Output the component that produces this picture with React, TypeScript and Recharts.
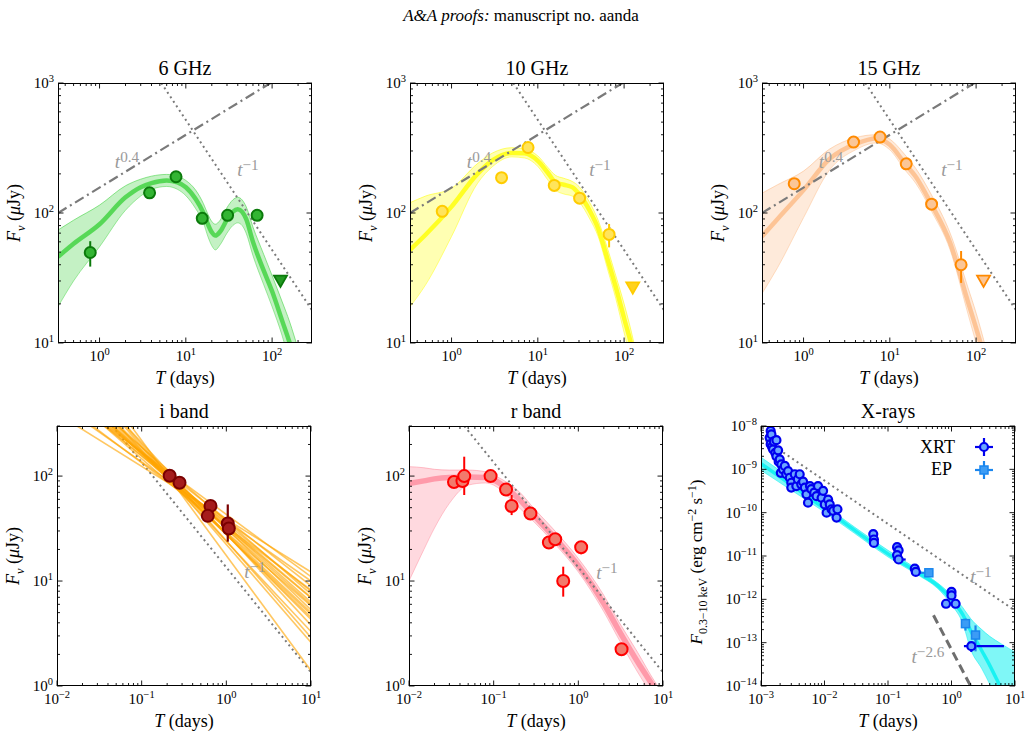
import React from 'react';
import { ComposedChart, XAxis, YAxis, Line, Area, Scatter, ErrorBar } from 'recharts';

const FONT = '"Liberation Serif", "DejaVu Serif", serif';
const PW = 254; // plot width
const PH = 260; // plot height
const ML = 60; // y-axis gutter
const MT = 10;
const MR = 10;
const MB = 40; // x-axis gutter

// ---------- radio (6 / 10 / 15 GHz) ----------
const radioDays = [0.78, 3.8, 7.7, 15.5, 30.5, 67];

const flux6 = [49.7, 143, 190, 91, 96, 96];
const err6 = [11, 7, 7, 9, 8, 6];
const lim6 = { x: 125, y: 30.4 };

const flux10 = [103, 187, 319, 163, 130, 68.4];
const err10 = [6, 8, 12, 8, 8, 14];
const lim10 = { x: 126, y: 27 };

const flux15 = [168, 351, 384, 239, 117, 40];
const err15 = [8, 12, 14, 10, 11, 11];
const lim15 = { x: 122, y: 30.4 };

// model bundles: spread (lo/hi) and core (mid)
const g6T = [0.33, 0.5, 1, 2, 3, 4, 6, 8, 10, 13, 16, 18, 20, 22, 25, 30, 35, 40, 45, 50, 60, 80, 100, 130, 160, 200, 260];
const g6Hi = [74, 88, 115, 162, 182, 192, 198, 192, 178, 150, 118, 98, 86, 82, 88, 110, 126, 132, 126, 112, 78, 48, 33, 21, 14.5, 9, 5];
const g6Mid = [46, 58, 82, 132, 158, 170, 178, 172, 158, 128, 100, 82, 71, 67, 72, 89, 102, 107, 102, 90, 60, 36, 25, 15, 10, 6, 3.2];
const g6Lo = [19, 30, 55, 105, 135, 152, 160, 152, 136, 108, 84, 66, 56, 52, 57, 70, 80, 84, 80, 70, 47, 28, 19, 11.5, 7, 4, 2];

const y10T = [0.33, 0.5, 1, 2, 3, 5, 7, 10, 13, 16, 20, 25, 30, 40, 50, 65, 80, 100, 130, 170];
const y10Hi = [120, 135, 155, 240, 290, 318, 310, 275, 225, 195, 185, 175, 160, 120, 88, 52, 33, 20, 10, 4];
const y10Mid = [52, 68, 112, 200, 255, 290, 288, 252, 205, 172, 165, 158, 140, 104, 76, 43, 27, 15.5, 8, 3];
const y10Lo = [19, 28, 66, 169, 228, 270, 265, 228, 180, 150, 140, 135, 122, 90, 66, 36, 22, 12, 6, 2];

const o15T = [0.33, 0.5, 1, 2, 4, 7, 10, 15, 20, 30, 50, 80, 100, 130, 170];
const o15Hi = [142, 165, 210, 310, 380, 400, 370, 280, 220, 140, 70, 27, 17, 9, 4];
const o15Mid = [66, 90, 150, 260, 340, 375, 335, 240, 190, 118, 59, 21, 13, 7, 3];
const o15Lo = [24, 38, 92, 214, 306, 346, 306, 214, 169, 105, 52, 17, 10, 5.5, 2.2];

// guide power laws
const radioRise = [{ x: 0.33, y: 100 }, { x: 96, y: 1000 }];
const radioDecay = [{ x: 5.2, y: 1000 }, { x: 290, y: 17.9 }];

// ---------- optical ----------
const iDays = [0.214, 0.28, 0.65, 0.604, 1.04, 1.07];
const iFlux = [100.7, 86.3, 52, 41.8, 35.4, 31.7];
const iLo = [96, 80, 47, 39, 23.7, 28.5];
const iHi = [106, 94, 57, 45, 53.7, 35];
// i-band power-law draws: value at 0.01 d and at 10 d
const iAt001 = [394, 662, 504, 722, 541, 943, 735, 891, 735, 1122, 936, 1154, 1542, 1267, 1671, 1636, 2729, 863, 957, 795, 1057, 692];
const iAt10 = [12.2, 11.0, 10.0, 9.0, 8.2, 7.5, 6.9, 6.3, 5.8, 5.3, 4.8, 4.3, 3.8, 3.3, 2.9, 2.6, 1.4, 6.0, 5.0, 7.0, 4.5, 8.0];

const rDays = [0.034, 0.0428, 0.0449, 0.092, 0.14, 0.163, 0.272, 0.449, 0.533, 0.663, 1.08, 3.24];
const rFlux = [87.7, 89.6, 100, 100, 74.6, 51.8, 44, 23.3, 25, 10, 21, 2.24];
const rLo = [83, 82, 66, 95, 70, 42.5, 41, 21.5, 23, 7.1, 18, 2.1];
const rHi = [92, 97, 153, 105, 79, 66, 47, 25, 27, 13.7, 23.4, 2.4];

const rT = [0.01, 0.015, 0.02, 0.03, 0.05, 0.08, 0.1, 0.15, 0.2, 0.3, 0.5, 1, 2, 3, 5, 8, 10];
const rBandHi = [123, 120, 116, 114, 114, 110, 102, 85, 71, 49, 31.6, 16.4, 7.3, 4.1, 2.1, 1.1, 0.85];
const rBandMid = [85, 90, 94, 97, 98, 97, 92, 74, 60, 42, 27, 14, 6.1, 3.4, 1.7, 0.95, 0.72];
const rBandLo = [10, 20, 32, 55, 82, 86, 82, 63, 50, 36.6, 23.7, 12.2, 5.1, 2.8, 1.36, 0.75, 0.58];

const opticalDecay = [{ x: 0.045, y: 300 }, { x: 10, y: 1.35 }];

// ---------- X-rays ----------
const xrtDays = [
  1.37e-3, 1.42e-3, 1.42e-3, 1.46e-3, 1.49e-3, 1.55e-3, 1.6e-3, 1.68e-3, 1.75e-3, 1.75e-3,
  1.86e-3, 1.9e-3, 1.97e-3, 2.05e-3, 2.09e-3, 2.22e-3, 2.37e-3, 2.5e-3, 2.67e-3, 2.84e-3,
  3.0e-3, 3.0e-3, 3.4e-3, 3.6e-3, 3.8e-3, 4.07e-3, 4.3e-3, 4.6e-3, 4.9e-3, 5.2e-3,
  5.5e-3, 5.9e-3, 6.2e-3, 6.9e-3, 7.5e-3, 7.9e-3, 9.0e-3, 9.5e-3, 1.01e-2, 1.08e-2,
  1.14e-2, 1.21e-2, 1.29e-2, 1.37e-2, 1.55e-2, 1.6e-2,
  5.86e-2, 6.0e-2, 6.0e-2, 0.139, 0.147, 0.139, 0.264, 0.274, 1.0, 1.0, 0.82, 1.16,
];
const xrtFlux = [
  5.4e-9, 7.7e-9, 3.8e-9, 6.4e-9, 3.3e-9, 2.9e-9, 4.4e-9, 2.4e-9, 4.7e-9, 2.0e-9,
  2.75e-9, 1.5e-9, 1.7e-9, 8.3e-10, 1.3e-9, 1.0e-9, 1.2e-9, 7.7e-10, 9.1e-10, 6.4e-10,
  4.9e-10, 3.8e-10, 7.7e-10, 4.1e-10, 5.9e-10, 7.7e-10, 4.5e-10, 5.2e-10, 3.8e-10, 2.65e-10,
  1.7e-10, 4.1e-10, 3.5e-10, 2.9e-10, 2.4e-10, 4.1e-10, 2.2e-10, 3.2e-10, 1.55e-10, 1.0e-10,
  2.0e-10, 1.55e-10, 1.2e-10, 1.1e-10, 7.7e-11, 1.2e-10,
  3.2e-11, 2.4e-11, 2.0e-11, 1.6e-11, 1.35e-11, 1.05e-11, 5.1e-12, 4.3e-12, 1.48e-12, 1.23e-12, 7.9e-13, 7.9e-13,
];
// XRT points with visible error bars: [t, F, tLo, tHi, FLo, FHi]
const xrtBars = [
  [0.147, 8.3e-12, 0.12, 0.19, 7.4e-12, 9.3e-12],
  [2.05, 8.3e-14, 1.57, 6.7, 6.1e-14, 1.04e-13],
];
const epBars = [
  [0.44, 4.1e-12, 0.3, 0.5, 3.7e-12, 4.5e-12],
  [1.66, 2.75e-13, 1.55, 1.78, 1.9e-13, 3.6e-13],
  [2.39, 1.5e-13, 2.25, 2.55, 6.3e-14, 2.5e-13],
];

const xT = [1e-3, 3e-3, 1e-2, 3e-2, 0.1, 0.3, 0.6, 1, 1.5, 2, 3, 4, 6, 10];
const xHi = [1.9e-9, 6.0e-10, 1.5e-10, 4.6e-11, 1.35e-11, 4.8e-12, 2.4e-12, 1.25e-12, 6.5e-13, 3.6e-13, 2.0e-13, 1.4e-13, 9.5e-14, 6.0e-14];
const xMid = [1.35e-9, 4.4e-10, 1.25e-10, 3.9e-11, 1.12e-11, 4.1e-12, 2.1e-12, 1.0e-12, 4.5e-13, 1.9e-13, 6.5e-14, 3.0e-14, 9e-15, 2e-15];
const xLo = [9.5e-10, 3.3e-10, 1.03e-10, 3.3e-11, 9.5e-12, 3.6e-12, 1.8e-12, 7.5e-13, 2.8e-13, 7e-14, 2.5e-14, 1.1e-14, 3e-15, 5e-16];

const xrayDecay = [{ x: 1e-3, y: 5.5e-9 }, { x: 10, y: 5.5e-13 }];
const xraySteep = [{ x: 0.52, y: 4.3e-13 }, { x: 2.0, y: 1e-14 }];

// ---------- helpers ----------
const pts = (xs: number[], ys: number[]) => xs.map((x, i) => ({ x, y: ys[i] }));
const rangeRows = (xs: number[], lo: number[], hi: number[]) => xs.map((x, i) => ({ x, band: [lo[i], hi[i]] }));
const symRows = (xs: number[], ys: number[], es: number[]) => xs.map((x, i) => ({ x, y: ys[i], ey: es[i] }));
const asymRows = (xs: number[], ys: number[], lo: number[], hi: number[]) =>
  xs.map((x, i) => ({ x, y: ys[i], ey: [ys[i] - lo[i], hi[i] - ys[i]] }));
const barRows = (rows: number[][]) =>
  rows.map(([t, f, tl, th, fl, fh]) => ({ x: t, y: f, ex: [t - tl, th - t], ey: [f - fl, fh - f] }));

function logTicks(lo: number, hi: number): number[] {
  const out: number[] = [];
  for (let e = Math.floor(Math.log10(lo)); e <= Math.ceil(Math.log10(hi)); e++) {
    for (let k = 1; k <= 9; k++) {
      const v = k * Math.pow(10, e);
      if (v >= lo * 0.999 && v <= hi * 1.001) out.push(v);
    }
  }
  return out;
}
const isDecade = (v: number) => Math.abs(Math.log10(v) - Math.round(Math.log10(v))) < 1e-6;
const expText = (v: number) => {
  const e = Math.round(Math.log10(v));
  return e < 0 ? '\u2212' + -e : String(e);
};

const renderXTick = (p: any) => {
  const v = p.payload.value;
  const x = p.x;
  const major = isDecade(v);
  const len = major ? 5.5 : 3;
  const yb = MT + PH;
  return (
    <g>
      <line x1={x} x2={x} y1={yb} y2={yb - len} stroke="#000" strokeWidth={0.9} />
      <line x1={x} x2={x} y1={MT} y2={MT + len} stroke="#000" strokeWidth={0.9} />
      {major && (
        <text x={x} y={yb + 18} textAnchor="middle" fontFamily={FONT} fontSize={15} fill="#000">
          10<tspan dy={-6.5} fontSize={10.5}>{expText(v)}</tspan>
        </text>
      )}
    </g>
  );
};

const renderYTick = (p: any) => {
  const v = p.payload.value;
  const y = p.y;
  const major = isDecade(v);
  const len = major ? 5.5 : 3;
  return (
    <g>
      <line x1={ML} x2={ML + len} y1={y} y2={y} stroke="#000" strokeWidth={0.9} />
      <line x1={ML + PW} x2={ML + PW - len} y1={y} y2={y} stroke="#000" strokeWidth={0.9} />
      {major && (
        <text x={ML - 4} y={y + 5} textAnchor="end" fontFamily={FONT} fontSize={15} fill="#000">
          10<tspan dy={-6.5} fontSize={10.5}>{expText(v)}</tspan>
        </text>
      )}
    </g>
  );
};

const circle = (r: number, fill: string, stroke: string, sw: number) => (p: any) =>
  <circle cx={p.cx} cy={p.cy} r={r} fill={fill} stroke={stroke} strokeWidth={sw} />;
const square = (s: number, fill: string, stroke: string, sw: number) => (p: any) =>
  <rect x={p.cx - s / 2} y={p.cy - s / 2} width={s} height={s} fill={fill} stroke={stroke} strokeWidth={sw} />;
const triDown = (r: number, fill: string, stroke: string, sw: number) => (p: any) =>
  <path d={`M${p.cx - r},${p.cy - r * 0.7}L${p.cx + r},${p.cy - r * 0.7}L${p.cx},${p.cy + r * 1.05}Z`} fill={fill} stroke={stroke} strokeWidth={sw} />;

function bundle(id: string, xs: number[], lo: number[], mid: number[], hi: number[], color: string, core: number, fillOpacity = 0.3) {
  return [
    <Area key={id + 'a'} data={rangeRows(xs, lo, hi)} dataKey="band" type="monotone" stroke="none" fill={color} fillOpacity={fillOpacity} isAnimationActive={false} activeDot={false} />,
    <Line key={id + 'h'} data={pts(xs, hi)} dataKey="y" type="monotone" stroke={color} strokeOpacity={0.55} strokeWidth={1} dot={false} activeDot={false} isAnimationActive={false} />,
    <Line key={id + 'l'} data={pts(xs, lo)} dataKey="y" type="monotone" stroke={color} strokeOpacity={0.45} strokeWidth={1} dot={false} activeDot={false} isAnimationActive={false} />,
    <Line key={id + 'm'} data={pts(xs, mid)} dataKey="y" type="monotone" stroke={color} strokeOpacity={0.8} strokeWidth={core} dot={false} activeDot={false} isAnimationActive={false} />,
  ];
}

function guide(id: string, data: { x: number; y: number }[], dash: string, width = 2, color = '#7a7a7a') {
  return (
    <Line key={id} data={data} dataKey="y" type="linear" stroke={color} strokeWidth={width} strokeDasharray={dash} dot={false} activeDot={false} isAnimationActive={false} />
  );
}

type PanelProps = {
  left: number;
  top: number;
  xDomain: [number, number];
  yDomain: [number, number];
  children: React.ReactNode;
};

function LogPanel({ left, top, xDomain, yDomain, children }: PanelProps) {
  return (
    <div style={{ position: 'absolute', left: left - ML, top: top - MT }}>
      <ComposedChart width={ML + PW + MR} height={MT + PH + MB} margin={{ top: MT, right: MR, left: 0, bottom: 0 }}>
        <XAxis dataKey="x" type="number" scale="log" domain={xDomain} allowDataOverflow ticks={logTicks(xDomain[0], xDomain[1])}
          interval={0} tick={renderXTick} tickLine={false} axisLine={false} height={MB} tickSize={0} tickMargin={0} />
        <YAxis dataKey="y" type="number" scale="log" domain={yDomain} allowDataOverflow ticks={logTicks(yDomain[0], yDomain[1])}
          interval={0} tick={renderYTick} tickLine={false} axisLine={false} width={ML} tickSize={0} tickMargin={0} />
        {children}
      </ComposedChart>
    </div>
  );
}

const RADIO_X: [number, number] = [0.33, 290];
const RADIO_Y: [number, number] = [10, 1000];
const OPT_X: [number, number] = [0.01, 10];
const OPT_Y: [number, number] = [1, 300];
const XR_X: [number, number] = [1e-3, 10];
const XR_Y: [number, number] = [1e-14, 1e-8];

const ROW1 = 83;
const ROW2 = 426;
const COLS1 = [58, 410, 762];
const COLS2 = [57, 409, 761];

function radioPanel(left: number, t: number[], lo: number[], mid: number[], hi: number[], bundleColor: string,
  flux: number[], err: number[], lim: { x: number; y: number }, face: string, edge: string, limFace: string) {
  return (
    <LogPanel left={left} top={ROW1} xDomain={RADIO_X} yDomain={RADIO_Y}>
      {bundle('b', t, lo, mid, hi, bundleColor, 4.5)}
      {guide('rise', radioRise, '10 4 2 4', 2.2)}
      {guide('decay', radioDecay, '2 3.4', 2)}
      <Scatter data={symRows(radioDays, flux, err)} dataKey="y" shape={circle(5.5, face, edge, 2)} isAnimationActive={false}>
        <ErrorBar dataKey="ey" direction="y" width={0} stroke={edge} strokeWidth={2} />
      </Scatter>
      <Scatter data={[lim]} dataKey="y" shape={triDown(6.5, limFace, edge, 1.8)} isAnimationActive={false} />
    </LogPanel>
  );
}

const Lbl = ({ x, y, size, color = '#000', rotate = false, children }: any) => (
  <div style={{
    position: 'absolute', left: x, top: y, transform: `translate(-50%, -50%)${rotate ? ' rotate(-90deg)' : ''}`,
    whiteSpace: 'nowrap', fontFamily: FONT, fontSize: size, color, lineHeight: 1,
  }}>{children}</div>
);

const Pow = ({ e }: { e: string }) => (<><i>t</i><sup style={{ fontSize: '0.8em', verticalAlign: '0.45em' }}>{e}</sup></>);
const FnuLabel = () => (<><i>F</i><sub style={{ fontSize: '0.7em' }}><i>ν</i></sub> (<i>μ</i>Jy)</>);
const NOTE = '#9a9a9a';

export default function App() {
  const frames = [...COLS1.map((l) => [l, ROW1]), ...COLS2.map((l) => [l, ROW2])];
  const titles = ['6 GHz', '10 GHz', '15 GHz', 'i band', 'r band', 'X-rays'];
  return (
    <div style={{ position: 'absolute', left: 0, top: 0, width: 1032, height: 734, background: '#fff', overflow: 'hidden' }}>
      <Lbl x={521} y={15} size={17}><i>A&amp;A proofs:</i> manuscript no. aanda</Lbl>

      {radioPanel(COLS1[0], g6T, g6Lo, g6Mid, g6Hi, '#3cd23c', flux6, err6, lim6, '#33b533', '#0b7a0b', '#229a22')}
      {radioPanel(COLS1[1], y10T, y10Lo, y10Mid, y10Hi, '#ffff00', flux10, err10, lim10, '#ffe45c', '#ffcc00', '#ffd21f')}
      {radioPanel(COLS1[2], o15T, o15Lo, o15Mid, o15Hi, '#fdba85', flux15, err15, lim15, '#fbc697', '#ff8a00', '#fbc697')}

      {/* i band */}
      <LogPanel left={COLS2[0]} top={ROW2} xDomain={OPT_X} yDomain={OPT_Y}>
        {guide('decay', opticalDecay, '2 3.4', 2)}
        {iAt001.map((y0, i) => (
          <Line key={'i' + i} data={[{ x: 0.01, y: y0 }, { x: 10, y: iAt10[i] }]} dataKey="y" type="linear" stroke="#ffa500"
            strokeOpacity={0.62} strokeWidth={1.6} dot={false} activeDot={false} isAnimationActive={false} />
        ))}
        <Scatter data={asymRows(iDays, iFlux, iLo, iHi)} dataKey="y" shape={circle(6, '#a51c1c', '#7a0000', 2)} isAnimationActive={false}>
          <ErrorBar dataKey="ey" direction="y" width={0} stroke="#7a0000" strokeWidth={2.2} />
        </Scatter>
      </LogPanel>

      {/* r band */}
      <LogPanel left={COLS2[1]} top={ROW2} xDomain={OPT_X} yDomain={OPT_Y}>
        {bundle('r', rT, rBandLo, rBandMid, rBandHi, '#ff8a9c', 5.5, 0.32)}
        {guide('decay', opticalDecay, '2 3.4', 2)}
        <Scatter data={asymRows(rDays, rFlux, rLo, rHi)} dataKey="y" shape={circle(6, '#f27a6c', '#ff0000', 2)} isAnimationActive={false}>
          <ErrorBar dataKey="ey" direction="y" width={0} stroke="#ff0000" strokeWidth={2} />
        </Scatter>
      </LogPanel>

      {/* X-rays */}
      <LogPanel left={COLS2[2]} top={ROW2} xDomain={XR_X} yDomain={XR_Y}>
        {bundle('x', xT, xLo, xMid, xHi, '#00f0f0', 3.5, 0.5)}
        {guide('decay', xrayDecay, '2 3.4', 2)}
        {guide('steep', xraySteep, '9 5', 3, '#6e6e6e')}
        <Scatter data={pts(xrtDays, xrtFlux)} dataKey="y" shape={circle(4, '#6aa6ff', '#0000ee', 2.2)} isAnimationActive={false} />
        <Scatter data={barRows(xrtBars)} dataKey="y" shape={circle(4, '#6aa6ff', '#0000ee', 2.2)} isAnimationActive={false}>
          <ErrorBar dataKey="ex" direction="x" width={0} stroke="#0000ee" strokeWidth={2.2} />
          <ErrorBar dataKey="ey" direction="y" width={0} stroke="#0000ee" strokeWidth={2.2} />
        </Scatter>
        <Scatter data={barRows(epBars)} dataKey="y" shape={square(8, '#3c9cf5', '#1a86ee', 1.5)} isAnimationActive={false}>
          <ErrorBar dataKey="ex" direction="x" width={0} stroke="#1a86ee" strokeWidth={2.2} />
          <ErrorBar dataKey="ey" direction="y" width={0} stroke="#1a86ee" strokeWidth={2.2} />
        </Scatter>
      </LogPanel>

      {/* frames */}
      {frames.map(([l, t], i) => (
        <div key={'f' + i} style={{ position: 'absolute', left: l, top: t, width: PW, height: PH, border: '1px solid #000', boxSizing: 'border-box', pointerEvents: 'none' }} />
      ))}

      {/* titles and axis labels */}
      {frames.map(([l, t], i) => (
        <React.Fragment key={'t' + i}>
          <Lbl x={l + PW / 2} y={t - 15} size={20}>{titles[i]}</Lbl>
          <Lbl x={l + PW / 2} y={t + PH + 35} size={18}><i>T</i> (days)</Lbl>
          {i < 5 && <Lbl x={l - 42} y={t + PH / 2} size={18} rotate><FnuLabel /></Lbl>}
        </React.Fragment>
      ))}
      <Lbl x={698} y={562} size={17} rotate>
        <i>F</i><sub style={{ fontSize: '0.7em' }}>0.3−10 keV</sub> (erg cm<sup style={{ fontSize: '0.7em' }}>−2</sup> s<sup style={{ fontSize: '0.7em' }}>−1</sup>)
      </Lbl>

      {/* power-law annotations */}
      {COLS1.map((l, i) => (
        <React.Fragment key={'pl' + i}>
          <Lbl x={l + 69} y={160} size={19} color={NOTE}><Pow e="0.4" /></Lbl>
          <Lbl x={l + 190} y={168} size={19} color={NOTE}><Pow e="−1" /></Lbl>
        </React.Fragment>
      ))}
      <Lbl x={255} y={570} size={19} color={NOTE}><Pow e="−1" /></Lbl>
      <Lbl x={607} y={571} size={19} color={NOTE}><Pow e="−1" /></Lbl>
      <Lbl x={981} y={575} size={19} color={NOTE}><Pow e="−1" /></Lbl>
      <Lbl x={928} y={655} size={19} color={NOTE}><Pow e="−2.6" /></Lbl>

      {/* X-ray legend */}
      <div style={{ position: 'absolute', left: 895, top: 447, transform: 'translateY(-50%)', width: 60, textAlign: 'right', fontFamily: FONT, fontSize: 18 }}>XRT</div>
      <div style={{ position: 'absolute', left: 895, top: 469, transform: 'translateY(-50%)', width: 57, textAlign: 'right', fontFamily: FONT, fontSize: 18 }}>EP</div>
      <svg style={{ position: 'absolute', left: 970, top: 434 }} width={28} height={48}>
        <line x1={5} x2={23} y1={13} y2={13} stroke="#0000ee" strokeWidth={2.2} />
        <line x1={14} x2={14} y1={4} y2={22} stroke="#0000ee" strokeWidth={2.2} />
        <circle cx={14} cy={13} r={4} fill="#6aa6ff" stroke="#0000ee" strokeWidth={2.2} />
        <line x1={5} x2={23} y1={36} y2={36} stroke="#1a86ee" strokeWidth={2.2} />
        <line x1={14} x2={14} y1={27} y2={45} stroke="#1a86ee" strokeWidth={2.2} />
        <rect x={10} y={32} width={8} height={8} fill="#3c9cf5" stroke="#1a86ee" strokeWidth={1.5} />
      </svg>
    </div>
  );
}
